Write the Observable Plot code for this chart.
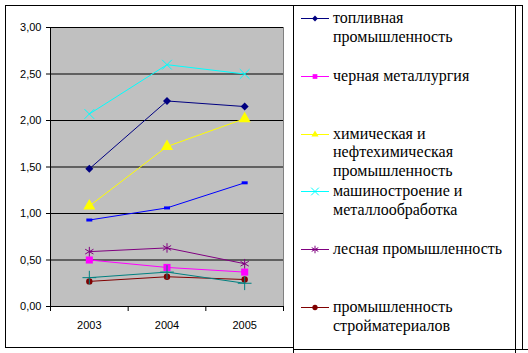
<!DOCTYPE html>
<html>
<head>
<meta charset="utf-8">
<script src="https://cdn.jsdelivr.net/npm/d3@7"></script>
<script src="https://cdn.jsdelivr.net/npm/@observablehq/plot@0.6"></script>
<style>
  html, body { margin: 0; padding: 0; background: #fff; }
  #wrap { position: relative; width: 528px; height: 353px; overflow: hidden; background: #fff; }
  #chart { position: absolute; left: 0; top: 0; }
  .ln { position: absolute; background: #000; }
  #legend { position: absolute; left: 293px; top: 5px; width: 222px; }
  .entry { position: absolute; left: 0; display: flex; align-items: flex-start; }
  .entry svg { flex: none; margin-top: 0; }
  .entry .lab { font-family: "Liberation Serif", "Times New Roman", "DejaVu Serif", serif; font-size: 16px; line-height: 18.5px; color: #000; width: 180px; }
</style>
</head>
<body>
<div id="wrap">
  <div id="chart"></div>
  <div class="ln" style="left:5px;top:5px;width:1px;height:343px"></div>
  <div class="ln" style="left:5px;top:5px;width:517px;height:1px"></div>
  <div class="ln" style="left:5px;top:347px;width:288px;height:1px"></div>
  <div class="ln" style="left:293px;top:5px;width:1px;height:348px"></div>
  <div class="ln" style="left:515px;top:5px;width:1px;height:348px"></div>
  <div class="ln" style="left:522px;top:5px;width:1px;height:344px"></div>
  <div class="ln" style="left:293px;top:349px;width:235px;height:1px"></div>
  <div id="legend"></div>
</div>
<script>
// ---- data ----
const years = ["2003", "2004", "2005"];
const legendNames = [
  "топливная промышленность",
  "черная металлургия",
  "химическая и нефтехимическая промышленность",
  "машиностроение и металлообработка",
  "лесная промышленность",
  "промышленность стройматериалов"
];
const fuel      = [1.48, 2.21, 2.15];
const ferrous   = [0.50, 0.42, 0.37];
const chemical  = [1.08, 1.72, 2.02];
const machinery = [2.07, 2.60, 2.50];
const forest    = [0.59, 0.63, 0.46];
const building  = [0.27, 0.32, 0.29];
const series7   = [0.93, 1.06, 1.33];
const series8   = [0.31, 0.37, 0.25];
const yTicks = [0, 0.5, 1, 1.5, 2, 2.5, 3];

// ---- styles ----
const seriesValues = [fuel, ferrous, chemical, machinery, forest, building, series7, series8];
const seriesLabels = [...legendNames, "ряд 7", "ряд 8"];
const colors = ["#000080", "#ff00ff", "#ffff00", "#00ffff", "#800080", "#800000", "#0000ff", "#008080"];
const dash = { draw(ctx, size) { ctx.rect(-3, -1.5, 6, 3); } };
const symbols = ["diamond2", "square", "triangle", "times", "asterisk", "circle", dash, "plus"];
const strokeSym = [false, false, false, true, true, false, false, true];
const radii = [3.6, 4, 4.5, 4.5, 4.5, 3.2, 3, 4.5];
const d3Sym = [d3.symbolDiamond2, d3.symbolSquare, d3.symbolTriangle, d3.symbolTimes, d3.symbolAsterisk, d3.symbolCircle];

const rows = [];
seriesValues.forEach((vals, s) => vals.forEach((v, i) => rows.push({ s, name: seriesLabels[s], year: years[i], pos: i + 0.5, value: v })));

const marks = [
  Plot.frame({ fill: "#c0c0c0", stroke: "#808080" }),
  Plot.gridY(yTicks, { stroke: "#000", strokeOpacity: 1 }),
  Plot.ruleX([0], { stroke: "#000" }),
  Plot.ruleY([0], { stroke: "#000" }),
  Plot.axisY({ ticks: yTicks, tickFormat: d => d.toFixed(2).replace(".", ","), tickSize: 4, tickPadding: 5, label: null }),
  Plot.axisX({ ticks: d3.range(0, years.length + 1), tickFormat: () => "", tickSize: 5, label: null }),
  Plot.axisX({ ticks: years.map((_, i) => i + 0.5), tickFormat: d => years[Math.floor(d)], tickSize: 0, tickPadding: 15, label: null })
];
seriesValues.forEach((_, s) => {
  const data = rows.filter(r => r.s === s);
  marks.push(Plot.line(data, { x: "pos", y: "value", stroke: colors[s], strokeWidth: 1 }));
  marks.push(Plot.dot(data, strokeSym[s]
    ? { x: "pos", y: "value", symbol: () => symbols[s], r: radii[s], stroke: colors[s], strokeWidth: 1, fill: "none" }
    : { x: "pos", y: "value", symbol: () => symbols[s], r: radii[s], fill: colors[s], stroke: "none" }));
});

const chart = Plot.plot({
  width: 293,
  height: 353,
  marginLeft: 50,
  marginRight: 10,
  marginTop: 27,
  marginBottom: 47,
  style: { fontFamily: "'Liberation Sans', Arial, sans-serif", fontSize: "11px", color: "#000", background: "transparent", overflow: "visible" },
  x: { type: "linear", domain: [0, years.length] },
  y: { domain: [0, 3] },
  symbol: { type: "identity" },
  marks
});
document.getElementById("chart").appendChild(chart);

// ---- legend ----
const legend = d3.select("#legend");
legendNames.forEach((name, s) => {
  const e = legend.append("div").attr("class", "entry").style("top", (4 + s * 57.8) + "px");
  const svg = e.append("svg").attr("width", 40).attr("height", 18);
  svg.append("line").attr("x1", 8).attr("x2", 36).attr("y1", 9.5).attr("y2", 9.5).attr("stroke", colors[s]).attr("stroke-width", 1);
  const p = svg.append("path").attr("transform", "translate(22,9.5)").attr("d", d3.symbol(d3Sym[s], strokeSym[s] ? 40 : 22)());
  if (strokeSym[s]) p.attr("fill", "none").attr("stroke", colors[s]); else p.attr("fill", colors[s]);
  e.append("div").attr("class", "lab").text(name);
});
</script>
</body>
</html>
